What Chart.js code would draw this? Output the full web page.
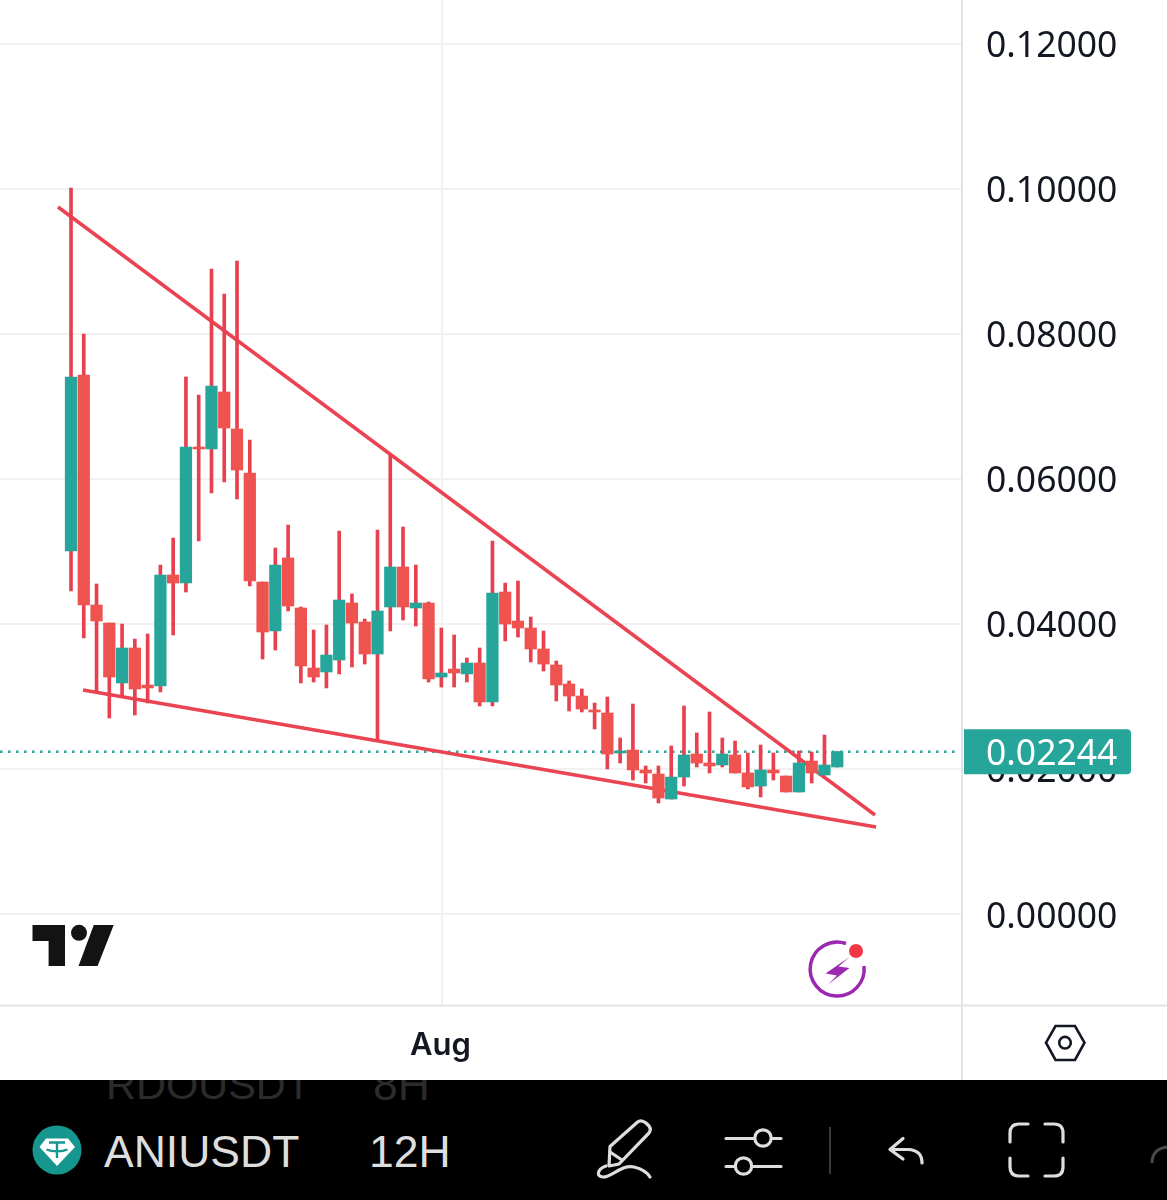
<!DOCTYPE html>
<html>
<head>
<meta charset="utf-8">
<style>
html,body{margin:0;padding:0;background:#fff;width:1167px;height:1200px;overflow:hidden}
#wrap{position:relative;width:1167px;height:1200px}
canvas{position:absolute;left:0;top:0}
svg.ov{position:absolute;left:0;top:0;pointer-events:none}
#bar{position:absolute;left:0;top:1080px;width:1167px;height:120px;background:#000;overflow:hidden;font-family:"Liberation Sans",sans-serif}
#bar span{position:absolute;white-space:nowrap;font-size:44.5px;line-height:50px}
</style>
</head>
<body>
<div id="wrap">
<canvas id="c" width="1167" height="1200"></canvas>
<svg class="ov" width="1167" height="1200" viewBox="0 0 1167 1200">
  <!-- logo -->
  <g fill="#131313">
    <path d="M32.5 925H65V966H48.6V941H32.5Z"/>
    <circle cx="79" cy="932.8" r="8"/>
    <path d="M93.8 925H113.7L97.6 966H78.5Z"/>
  </g>
  <!-- bolt badge -->
  <path d="M846 943.5A27 27 0 1 0 864 966" fill="none" stroke="#9c27b0" stroke-width="3.5"/>
  <path d="M849.5 957L825.5 973.5L837 975.5L828 984.5L849.5 968L838.5 966.5Z" fill="#9c27b0"/>
  <circle cx="856" cy="951" r="7" fill="#f23645"/>
  <!-- settings hexagon -->
  <path d="M1055.5 1026H1075L1084.5 1042.7L1075 1060H1055.5L1046 1042.7Z" fill="none" stroke="#131722" stroke-width="2.6"/>
  <circle cx="1065" cy="1042.7" r="5.8" fill="none" stroke="#131722" stroke-width="2.6"/>
</svg>
<div id="bar">
  <span style="left:106px;top:-20px;color:#2b2b2b;font-size:41.5px">RDOUSDT</span>
  <span style="left:373px;top:-20px;color:#2b2b2b">8H</span>
  <span style="left:104px;top:47px;color:#dedede">ANIUSDT</span>
  <span style="left:369px;top:47px;color:#dedede">12H</span>
</div>
<svg class="ov" width="1167" height="1200" viewBox="0 0 1167 1200">
  <circle cx="57" cy="1150" r="24.5" fill="#15978f"/>
  <path d="M46 1138.5H68L75 1147L57 1166L39.5 1147Z" fill="#fff"/>
  <path d="M49 1142.5H65M57 1142.5V1158M46.5 1149.5C52 1152 62 1152 67.5 1149.5" fill="none" stroke="#15978f" stroke-width="2.4"/>
  <g fill="none" stroke="#dedede" stroke-width="3.2" stroke-linecap="round" stroke-linejoin="round">
    <path d="M610 1146.5L637 1122.5Q641 1119 646 1123L649 1126Q652 1130 648 1134L619 1164L609 1166Z"/>
    <path d="M610 1152L622 1160"/>
    <path d="M606 1166C597 1169 596 1177 603 1177C612 1177 622 1164 634 1167C642 1169 647 1172 650 1177"/>
    <path d="M726 1138.5H754.5M772 1138.5H781M726 1166.5H735M752.5 1166.5H781"/>
    <circle cx="763" cy="1138" r="8.2"/>
    <circle cx="743.5" cy="1166" r="8.2"/>
    <path d="M903 1138.5L890 1149.5L903 1159M891 1149.5H908Q922 1150 922 1163"/>
    <path d="M1028 1124H1019Q1010 1124 1010 1133V1142M1045 1124H1054Q1063 1124 1063 1133V1142M1010 1158V1167Q1010 1176 1019 1176H1028M1063 1158V1167Q1063 1176 1054 1176H1045"/>
  </g>
  <path d="M830 1127V1174" stroke="#3a3a3a" stroke-width="2"/>
  <path d="M1152 1163Q1152 1149 1167 1147" fill="none" stroke="#4a4a4a" stroke-width="3"/>
</svg>
</div>
<script src="https://cdn.jsdelivr.net/npm/chart.js@4/dist/chart.umd.min.js"></script>
<script>
const opens=[.05008,.07433,.04264,.04016,.03190,.03672,.03162,.03148,.04678,.04567,.06441,.06414,.07199,.06689,.06083,.04581,.03906,.04912,.04223,.03396,.03341,.03506,.04292,.04030,.03589,.04237,.04788,.04223,.04292,.03272,.03382,.03314,.03465,.02928,.04443,.04044,.03947,.03658,.03438,.03176,.03010,.02818,.02776,.02225,.02266,.01991,.01936,.01591,.01894,.02211,.02087,.02060,.02198,.01950,.01770,.01991,.01908,.01688,.02115,.01922,.02032];
const highs=[.10010,.07998,.04554,.04016,.04002,.03796,.03865,.04815,.05187,.07406,.07158,.08894,.08549,.09004,.06538,.04581,.05050,.05366,.04237,.03920,.03989,.05284,.04416,.04071,.05298,.06331,.05339,.04815,.04306,.03947,.03851,.03534,.03672,.05146,.04567,.04595,.04099,.03906,.03493,.03217,.03107,.02914,.02997,.02432,.02900,.02046,.02046,.02322,.02873,.02501,.02790,.02432,.02390,.02225,.02335,.02225,.01908,.02253,.02239,.02473,.02244];
const lows=[.04457,.03810,.03066,.02707,.03010,.02749,.02914,.03066,.03851,.04443,.05146,.05807,.05959,.05725,.04526,.03520,.03644,.04182,.03190,.03203,.03121,.03314,.03410,.03451,.02404,.03906,.04058,.03975,.03203,.03134,.03134,.03203,.02873,.02873,.03768,.03823,.03479,.03355,.02942,.02804,.02790,.02556,.02005,.02087,.01853,.01812,.01536,.01591,.01770,.02032,.01950,.02032,.01950,.01729,.01619,.01853,.01688,.01688,.01812,.01922,.02032];
const closes=[.07406,.04264,.04044,.03272,.03672,.03107,.03121,.04678,.04567,.06441,.06414,.07282,.06703,.06124,.04595,.03892,.04815,.04250,.03424,.03272,.03575,.04333,.04016,.03589,.04182,.04788,.04237,.04292,.03245,.03327,.03327,.03465,.02928,.04430,.04002,.03947,.03658,.03451,.03162,.03010,.02831,.02790,.02211,.02253,.01991,.01950,.01605,.01894,.02198,.02087,.02046,.02211,.01950,.01757,.01991,.01950,.01688,.02087,.01950,.02060,.02244];

const yTickValues=[0,.02,.04,.06,.08,.10,.12];
const xTickValues=[29.08];
const xTickLabels=["Aug"];
const lastPrice=.02244;
const upperX=[-1.02,62.96], upperY=[.09748,.01371];
const lowerX=[.94,63.04], lowerY=[.03093,.01206];
const priceX=[-5.56,69.38], priceY=[lastPrice,lastPrice];

const GREEN="#26a69a", RED="#ef5350", WICK="#e9404f", LINE="#ea4352";
const bodyColors=opens.map((o,i)=>closes[i]>=o?GREEN:RED);
const pts=(xs,ys)=>xs.map((x,i)=>({x,y:ys[i]}));
const TICK_FONT='"Noto Sans"';

const priceTag={id:"priceTag",afterDraw(ch){
  const g=ch.ctx,y=ch.scales.y.getPixelForValue(lastPrice);
  g.save();
  g.fillStyle=GREEN;
  g.beginPath();
  g.roundRect(964,y-22.5,167,45,[0,4,4,0]);
  g.fill();
  g.fillStyle="#fff";
  g.font='35.5px '+TICK_FONT;
  g.textAlign="left";g.textBaseline="middle";
  g.fillText(lastPrice.toFixed(5),986,y+3);
  g.restore();
}};
const frame={id:"frame",afterDraw(ch){
  const g=ch.ctx;
  g.save();
  g.fillStyle="#e1e3e6";
  g.fillRect(961,0,2,1080);
  g.fillRect(0,1004.5,1167,2);
  g.restore();
}};

new Chart(document.getElementById("c"),{
  type:"bar",
  data:{datasets:[
    {type:"bar",label:"body",order:1,grouped:false,barThickness:11.6,borderWidth:0,borderSkipped:false,
     backgroundColor:bodyColors,
     data:opens.map((o,i)=>({x:i,y:[o,closes[i]]}))},
    {type:"bar",label:"wick",order:2,grouped:false,barThickness:3,borderWidth:0,borderSkipped:false,
     backgroundColor:WICK,
     data:highs.map((h,i)=>({x:i,y:[lows[i],h]}))},
    {type:"line",label:"upper",order:3,data:pts(upperX,upperY),borderColor:LINE,borderWidth:3.5,pointRadius:0,tension:0},
    {type:"line",label:"lower",order:3,data:pts(lowerX,lowerY),borderColor:LINE,borderWidth:3.5,pointRadius:0,tension:0},
    {type:"line",label:"price",order:4,data:pts(priceX,priceY),borderColor:GREEN,borderWidth:2.5,borderDash:[2.5,5.5],pointRadius:0,tension:0}
  ]},
  options:{
    responsive:false,animation:false,devicePixelRatio:1,
    layout:{padding:0},
    plugins:{legend:{display:false},tooltip:{enabled:false}},
    scales:{
      x:{type:"linear",offset:false,min:-5.56,max:69.77,
        afterBuildTicks(s){s.ticks=xTickValues.map(value=>({value}));},
        afterFit(s){s.height=195;s.paddingLeft=0;s.paddingRight=0;},
        grid:{offset:false,color:"#f1f1f2",lineWidth:2,drawTicks:false},
        border:{display:false},
        ticks:{padding:22,labelOffset:-2,maxRotation:0,autoSkip:false,color:"#131722",font:{family:"Inter",size:31,weight:"600"},
          callback:(v)=>xTickLabels[xTickValues.indexOf(v)]}
      },
      y:{type:"linear",position:"right",min:-.01247,max:.126,
        afterBuildTicks(s){s.ticks=yTickValues.map(value=>({value}));},
        afterFit(s){s.width=205;s.paddingTop=0;s.paddingBottom=0;},
        grid:{color:"#f1f1f2",lineWidth:2,drawTicks:false},
        border:{display:false},
        ticks:{padding:24,labelOffset:3,autoSkip:false,color:"#131722",font:{family:"Noto Sans",size:35.5},
          callback:(v)=>Number(v).toFixed(5)}
      }
    }
  },
  plugins:[frame,priceTag]
});
</script>
</body>
</html>
